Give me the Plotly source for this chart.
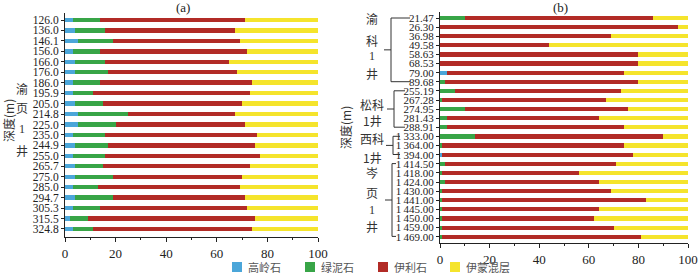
import plotly.graph_objects as go

W, H = 700, 274

# ---------------- data ----------------
left_depths = ["126.0", "136.0", "146.1", "156.0", "166.0", "176.0", "186.0", "195.9", "205.0", "214.8",
               "225.0", "235.0", "244.9", "255.0", "265.7", "275.0", "285.0", "294.7", "305.3", "315.5", "324.8"]
left_kaolinite = [3, 4, 5, 3, 4, 4, 3, 3, 4, 5, 5, 3, 4, 3, 4, 4, 3, 4, 3, 2, 3]
left_chlorite = [11, 12, 14, 11, 12, 13, 11, 8, 11, 20, 15, 13, 13, 13, 11, 15, 10, 15, 11, 7, 8]
left_illite = [57, 51, 50, 58, 49, 51, 60, 62, 55, 42, 51, 60, 58, 61, 58, 51, 56, 52, 58, 66, 63]
left_is = [29, 33, 31, 28, 35, 32, 26, 27, 30, 33, 29, 24, 25, 23, 27, 30, 31, 29, 28, 25, 26]

right_depths = ["21.47", "26.30", "36.98", "49.58", "58.63", "68.53", "79.00", "89.68",
                "255.19", "267.28", "274.95", "281.43", "288.91",
                "1\u2009333.00", "1\u2009364.00", "1\u2009394.00",
                "1\u2009414.50", "1\u2009418.00", "1\u2009424.00", "1\u2009430.00", "1\u2009441.00",
                "1\u2009445.00", "1\u2009450.00", "1\u2009459.00", "1\u2009469.00"]
right_kaolinite = [0, 0, 0, 0, 0, 0, 3, 0, 0, 0, 0, 0, 0, 0, 0, 1, 0, 0, 0, 0, 0, 0, 0, 0, 0]
right_chlorite = [10, 0, 0, 0, 0, 0, 0, 2, 6, 1, 10, 3, 3, 14, 1, 0, 2, 1, 2, 1, 1, 1, 1, 1, 1]
right_illite = [76, 96, 69, 44, 80, 80, 71, 78, 67, 66, 66, 61, 71, 76, 73, 77, 69, 55, 62, 68, 82, 63, 61, 69, 80]
right_is = [14, 4, 31, 56, 20, 20, 26, 20, 27, 33, 24, 36, 26, 10, 26, 22, 29, 44, 36, 31, 17, 36, 38, 30, 19]

mineral_names = ["高岭石", "绿泥石", "伊利石", "伊蒙混层"]
mineral_colors = ["#4ba6d9", "#38a547", "#b22b26", "#f5e42c"]

# group labels on the right panel: (label lines, first row, last row)
right_groups = [
    (["渝", "科", "1", "井"], 0, 7),
    (["松科", "1井"], 8, 12),
    (["西科", "1井"], 13, 15),
    (["岑", "页", "1", "井"], 16, 24),
]
left_group = ["渝", "页", "1", "井"]

SERIF = "Liberation Serif, Noto Sans CJK SC, serif"
CJK = "Noto Sans CJK SC, sans-serif"


def px(x):
    return x / W


def py(y):
    return 1 - y / H


fig = go.Figure()

left_series = [left_kaolinite, left_chlorite, left_illite, left_is]
right_series = [right_kaolinite, right_chlorite, right_illite, right_is]

for name, color, vals in zip(mineral_names, mineral_colors, left_series):
    fig.add_trace(go.Bar(x=vals, y=list(range(len(left_depths))), orientation="h",
                         marker=dict(color=color, line=dict(width=0)), width=0.42,
                         name=name, showlegend=False, xaxis="x", yaxis="y"))
for name, color, vals in zip(mineral_names, mineral_colors, right_series):
    fig.add_trace(go.Bar(x=vals, y=list(range(len(right_depths))), orientation="h",
                         marker=dict(color=color, line=dict(width=0)), width=0.46,
                         name=name, showlegend=False, xaxis="x2", yaxis="y2"))

xaxis_common = dict(range=[0, 100], dtick=20, showline=True, linecolor="#222", linewidth=1,
                    ticks="outside", ticklen=4, tickcolor="#222", showgrid=False, zeroline=False,
                    automargin=False,
                    tickfont=dict(family=SERIF, size=13, color="#222"),
                    minor=dict(dtick=10, ticks="outside", ticklen=2, tickcolor="#222"))
yaxis_common = dict(showline=True, linecolor="#222", linewidth=1, ticks="outside", ticklen=3,
                    tickcolor="#222", showgrid=False, zeroline=False, automargin=False)

fig.update_layout(
    width=W, height=H, margin=dict(l=0, r=0, t=0, b=0, pad=0, autoexpand=False),
    paper_bgcolor="white", plot_bgcolor="white", barmode="stack", bargap=0,
    showlegend=False,
    xaxis=dict(domain=[px(65), px(318)], anchor="y", **xaxis_common),
    yaxis=dict(domain=[py(237), py(13)], anchor="x", range=[len(left_depths) - 1 + 0.77, -0.67],
               tickvals=list(range(len(left_depths))), ticktext=left_depths,
               tickfont=dict(family=SERIF, size=11.5, color="#222"), **yaxis_common),
    xaxis2=dict(domain=[px(440), px(688)], anchor="y2", **xaxis_common),
    yaxis2=dict(domain=[py(243), py(12)], anchor="x2", range=[len(right_depths) - 1 + 0.69, -0.66],
                tickvals=list(range(len(right_depths))), ticktext=right_depths,
                tickfont=dict(family=SERIF, size=11, color="#222"), **yaxis_common),
)

annotations = []
shapes = []


def txt(x, y, s, size=12, family=CJK, angle=0, color="#333"):
    annotations.append(dict(x=px(x), y=py(y), xref="paper", yref="paper", text=s, showarrow=False,
                            xanchor="center", yanchor="middle", textangle=angle,
                            font=dict(family=family, size=size, color=color)))


def line(x0, y0, x1, y1):
    shapes.append(dict(type="line", xref="paper", yref="paper", x0=px(x0), y0=py(y0), x1=px(x1), y1=py(y1),
                       line=dict(color="#333", width=1)))


# panel titles
txt(183, 8, "(a)", size=13, family=SERIF, color="#222")
txt(560, 8, "(b)", size=13, family=SERIF, color="#222")

# axis titles
txt(8, 121, "深度(m)", size=12, family=CJK, angle=-90)
txt(345, 128, "深度(m)", size=12, family=CJK, angle=-90)

# left well label
for s, y in zip(left_group, [88, 108, 129, 150]):
    txt(22, y, s, size=12, family=CJK if s != "1" else SERIF)

# right group brackets and labels
row0_y, row_dy = 18.0, 9.1
bracket_x = [391, 394, 393, 392]
bracket_end = [410, 405, 400, 396]
label_pos = [
    [18, 40, 56, 73],
    [104, 120],
    [138, 157],
    [172, 192, 210, 226],
]
for (lines, r0, r1), bx, be, lys in zip(right_groups, bracket_x, bracket_end, label_pos):
    y0 = row0_y + r0 * row_dy
    y1 = row0_y + r1 * row_dy
    ym = (y0 + y1) / 2
    line(bx, y0, bx, y1)
    line(bx, y0, be, y0)
    line(bx, y1, be, y1)
    line(bx - 7, ym, bx, ym)
    for s, ly in zip(lines, lys):
        txt(372, ly, s, size=12, family=CJK if s != "1" else SERIF)

# legend
leg_x = [232, 305, 378, 450]
for name, color, lx in zip(mineral_names, mineral_colors, leg_x):
    shapes.append(dict(type="rect", xref="paper", yref="paper", x0=px(lx), x1=px(lx + 10),
                       y0=py(272), y1=py(262), fillcolor=color, line=dict(width=0)))
    annotations.append(dict(x=px(lx + 14), y=py(266.5), xref="paper", yref="paper", text=name,
                            showarrow=False, xanchor="left", yanchor="middle",
                            font=dict(family=CJK, size=11, color="#555")))

fig.update_layout(annotations=annotations, shapes=shapes)
fig.write_html("out.html", config={"displayModeBar": False},
               post_script="document.body.style.margin='0px';document.body.style.overflow='hidden';")
